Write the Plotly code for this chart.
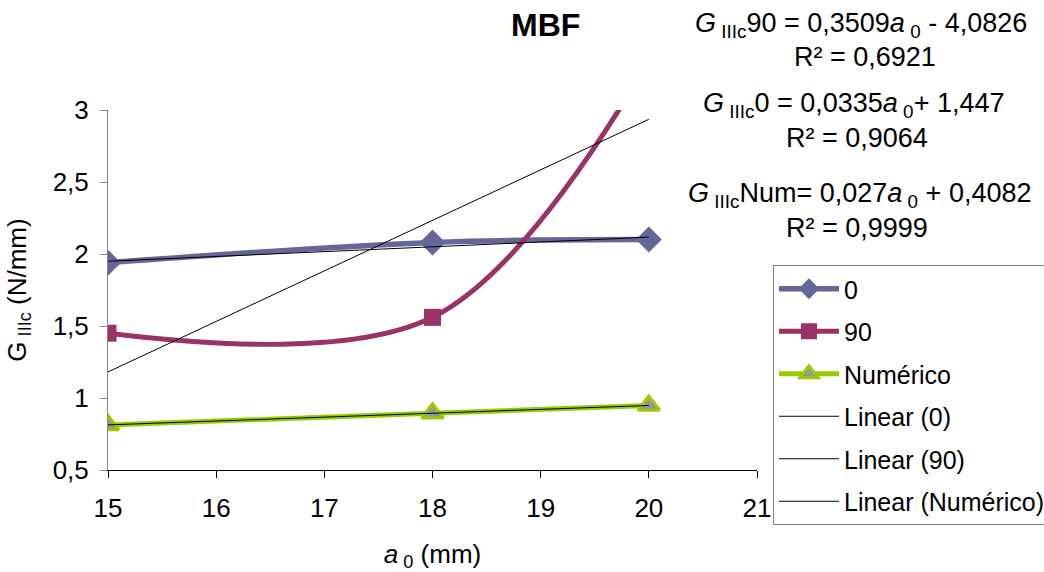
import plotly.graph_objects as go

# Crack length a0 (mm) and measured mode III toughness G_IIIc (N/mm)
a0 = [15, 18, 20]
g_0 = [1.94, 2.08, 2.10]
g_90 = [1.45, 1.56, 3.34]
g_num = [0.813, 0.894, 0.948]

# Linear fits reported on the chart (slope, intercept)
fit_0 = (0.0335, 1.447)
fit_90 = (0.3509, -4.0826)
fit_num = (0.027, 0.4082)

x_ticks = [15, 16, 17, 18, 19, 20, 21]
y_ticks = [0.5, 1, 1.5, 2, 2.5, 3]
y_tick_text = ["0,5", "1", "1,5", "2", "2,5", "3"]

FONT = "Liberation Sans, Arial, sans-serif"
C0 = "#666699"
C90 = "#993366"
CNUM = "#99CC00"

fig = go.Figure()

fig.add_trace(go.Scatter(
    x=a0, y=g_0, name="0", mode="lines+markers",
    line=dict(color=C0, width=5.5, shape="spline", smoothing=1),
    marker=dict(symbol="diamond", size=20, color=C0),
    legendgroup="a",
))
fig.add_trace(go.Scatter(
    x=a0, y=g_90, name="90", mode="lines+markers",
    line=dict(color=C90, width=5, shape="spline", smoothing=1),
    marker=dict(symbol="square", size=17, color=C90),
    legendgroup="b",
))
fig.add_trace(go.Scatter(
    x=a0, y=g_num, name="Numérico", mode="lines+markers",
    line=dict(color=CNUM, width=5, shape="spline", smoothing=1),
    marker=dict(symbol="triangle-up", size=19, color="#969696",
                line=dict(color=CNUM, width=3)),
    legendgroup="c",
))

def fit_line(fit):
    return [fit[0] * x + fit[1] for x in (a0[0], a0[-1])]

for name, fit, grp in (("Linear (0)", fit_0, "d"),
                       ("Linear (90)", fit_90, "e"),
                       ("Linear (Numérico)", fit_num, "f")):
    fig.add_trace(go.Scatter(
        x=[a0[0], a0[-1]], y=fit_line(fit), name=name, mode="lines",
        line=dict(color="black", width=1), legendgroup=grp,
    ))

L, R, T, B = 108, 287, 110, 102
W, H = 1044, 572
pw, ph = W - L - R, H - T - B

def px_x(px):
    return (px - L) / pw

def px_y(py):
    return (H - B - py) / ph

notes = [
    ("<b>MBF</b>", 545, 25, 32),
    ("<i>G</i><sub> IIIc</sub>90 = 0,3509<i>a</i><sub> 0</sub> - 4,0826", 861, 25, 27),
    ("R² = 0,6921", 865, 57, 27),
    ("<i>G</i><sub> IIIc</sub>0 = 0,0335<i>a</i><sub> 0</sub>+ 1,447", 853, 105, 27),
    ("R² = 0,9064", 857, 138, 27),
    ("<i>G</i><sub> IIIc</sub>Num= 0,027<i>a</i><sub> 0</sub> + 0,4082", 859, 195, 27),
    ("R² = 0,9999", 857, 228, 27),
]
for text, x, y, size in notes:
    fig.add_annotation(
        text=text, x=px_x(x), y=px_y(y), xref="paper", yref="paper",
        xanchor="center", yanchor="middle", showarrow=False,
        font=dict(family=FONT, size=size, color="black"),
    )

fig.update_layout(
    width=W, height=H,
    margin=dict(l=L, r=R, t=T, b=B, autoexpand=False),
    paper_bgcolor="white", plot_bgcolor="white",
    font=dict(family=FONT, size=26, color="black"),
    showlegend=True,
    legend=dict(
        xref="container", yref="container",
        x=773 / W, y=1 - 265 / H, xanchor="left", yanchor="top",
        bordercolor="#808080", borderwidth=1,
        font=dict(family=FONT, size=25, color="black"),
        tracegroupgap=7, itemwidth=60,
        bgcolor="white",
    ),
    xaxis=dict(
        range=[15, 21], tickvals=x_ticks, ticks="outside", ticklen=7,
        tickcolor="black", showline=True, linecolor="black", linewidth=1,
        showgrid=False, zeroline=False, automargin=False,
        tickfont=dict(size=26), ticklabelstandoff=8,
        title=dict(text="<i>a</i><sub> 0</sub> (mm)", font=dict(size=26), standoff=22),
    ),
    yaxis=dict(
        range=[0.5, 3], tickvals=y_ticks, ticktext=y_tick_text,
        ticks="outside", ticklen=7, tickcolor="#868686",
        showline=True, linecolor="#868686", linewidth=1,
        showgrid=False, zeroline=False, automargin=False,
        tickfont=dict(size=26), ticklabelstandoff=6,
        title=dict(text="G<sub> IIIc</sub> (N/mm)", font=dict(size=26), standoff=18),
    ),
)

fig.write_html("out.html")
